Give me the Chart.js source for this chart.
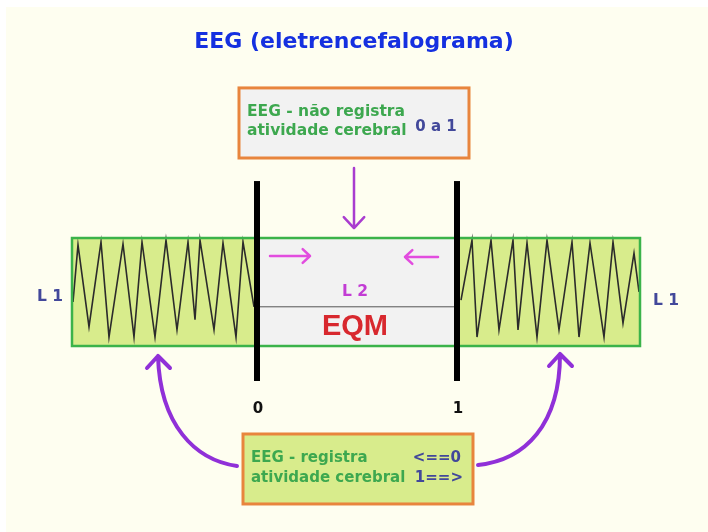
<!DOCTYPE html>
<html>
<head>
<meta charset="utf-8">
<script src="https://cdn.jsdelivr.net/npm/chart.js@4.4.1/dist/chart.umd.min.js"></script>
<style>
    html, body { margin: 0; padding: 0; background: #ffffff; }
    #wrap { width: 708px; height: 532px; }
</style>
</head>
<body>
<div id="wrap"><canvas id="eegChart" width="708" height="532"></canvas></div>
<script>
// x: 0 and 1 are the two black markers, y: amplitude of the trace
const eegEsqX = [-0.92, -0.895, -0.84, -0.78, -0.74, -0.67, -0.615, -0.575, -0.51, -0.455, -0.40, -0.345, -0.31, -0.285, -0.215, -0.17, -0.105, -0.07, -0.015];
const eegEsqY = [-0.25, 0.94, -0.77, 1.0, -0.98, 0.96, -0.98, 1.0, -0.98, 1.04, -0.83, 1.0, -0.62, 1.04, -0.83, 0.98, -0.98, 1.0, -0.35];
const eegDirX = [1.02, 1.075, 1.10, 1.17, 1.21, 1.28, 1.305, 1.35, 1.40, 1.45, 1.51, 1.575, 1.61, 1.665, 1.735, 1.78, 1.83, 1.885, 1.91];
const eegDirY = [-0.21, 1.04, -0.98, 1.04, -0.83, 1.04, -0.83, 0.98, -0.98, 1.04, -0.83, 1.0, -0.98, 0.98, -0.98, 1.0, -0.69, 0.77, -0.04];
const planaX = [0, 1];
const planaY = [-0.35, -0.35];

const marcos = ['0', '1'];
const titulo = 'EEG (eletrencefalograma)';
const textoTopo = ['EEG - não registra', 'atividade cerebral'];
const faixaTopo = '0 a 1';
const textoBase = ['EEG - registra', 'atividade cerebral'];
const faixaBase = ['<==0', '1==>'];
const rotuloL1 = 'L 1';
const rotuloL2 = 'L 2';
const rotuloEQM = 'EQM';

// diagram layout, in data units
const caixaEEG = { x0: -0.925, x1: 1.915, y0: 1.083, y1: -1.167 };
const barra = { y0: 2.27, y1: -1.896 };
const caixaTopo = { x0: -0.09, x1: 1.06, y0: 4.21, y1: 2.75 };
const caixaBase = { x0: -0.07, x1: 1.08, y0: -3.0, y1: -4.458 };

const pontos = (xs, ys) => xs.map((x, i) => ({ x: x, y: ys[i] }));

function seta(ctx, x0, y0, x1, y1, cor, largura, cab) {
    ctx.save();
    ctx.strokeStyle = cor;
    ctx.lineWidth = largura;
    ctx.lineCap = 'round';
    ctx.lineJoin = 'round';
    ctx.beginPath();
    ctx.moveTo(x0, y0);
    ctx.lineTo(x1, y1);
    const a = Math.atan2(y1 - y0, x1 - x0);
    ctx.moveTo(x1 - cab * Math.cos(a - 0.75), y1 - cab * Math.sin(a - 0.75));
    ctx.lineTo(x1, y1);
    ctx.lineTo(x1 - cab * Math.cos(a + 0.75), y1 - cab * Math.sin(a + 0.75));
    ctx.stroke();
    ctx.restore();
}

function caixa(ctx, X, Y, c, fundo, borda) {
    const l = X(c.x0), r = X(c.x1), t = Y(c.y0), b = Y(c.y1);
    ctx.fillStyle = fundo;
    ctx.fillRect(l, t, r - l, b - t);
    ctx.strokeStyle = borda;
    ctx.lineWidth = 3;
    ctx.strokeRect(l, t, r - l, b - t);
}

function texto(ctx, s, x, y, font, cor, align) {
    ctx.font = font;
    ctx.fillStyle = cor;
    ctx.textAlign = align || 'center';
    ctx.textBaseline = 'middle';
    ctx.fillText(s, x, y);
}

const diagrama = {
    id: 'diagrama',
    beforeDraw(chart) {
        const ctx = chart.ctx;
        ctx.save();
        ctx.fillStyle = '#ffffff';
        ctx.fillRect(0, 0, chart.width, chart.height);
        ctx.fillStyle = '#fefef0';
        ctx.fillRect(6, 7, chart.width - 6, chart.height - 7);
        ctx.restore();
    },
    beforeDatasetsDraw(chart) {
        const ctx = chart.ctx;
        const X = v => chart.scales.x.getPixelForValue(v);
        const Y = v => chart.scales.y.getPixelForValue(v);
        const t = Y(caixaEEG.y0), b = Y(caixaEEG.y1);
        ctx.save();
        ctx.fillStyle = '#d8ec8c';
        ctx.fillRect(X(caixaEEG.x0), t, X(caixaEEG.x1) - X(caixaEEG.x0), b - t);
        ctx.fillStyle = '#f2f2f2';
        ctx.fillRect(X(0), t, X(1) - X(0), b - t);
        ctx.restore();
    },
    afterDatasetsDraw(chart) {
        const ctx = chart.ctx;
        const X = v => chart.scales.x.getPixelForValue(v);
        const Y = v => chart.scales.y.getPixelForValue(v);
        const B = 'bold 15.5px "DejaVu Sans"';
        const b15 = 'bold 15px "DejaVu Sans"';
        ctx.save();

        // green frame round the traces
        ctx.strokeStyle = '#3bb34a';
        ctx.lineWidth = 2.5;
        ctx.strokeRect(X(caixaEEG.x0), Y(caixaEEG.y0), X(caixaEEG.x1) - X(caixaEEG.x0), Y(caixaEEG.y1) - Y(caixaEEG.y0));

        // black markers 0 and 1
        [0, 1].forEach((m, i) => {
            ctx.fillStyle = '#000000';
            ctx.fillRect(X(m) - 3, Y(barra.y0), 6, Y(barra.y1) - Y(barra.y0));
            texto(ctx, marcos[i], X(m) + 1, Y(-2.48), b15, '#111111');
        });

        // title
        texto(ctx, titulo, X(0.485), Y(5.17), 'bold 22px "DejaVu Sans"', '#1530e0');

        // top box
        caixa(ctx, X, Y, caixaTopo, '#f2f2f2', '#e8853d');
        texto(ctx, textoTopo[0], X(-0.05), Y(3.708), B, '#3da84f', 'left');
        texto(ctx, textoTopo[1], X(-0.05), Y(3.3125), B, '#3da84f', 'left');
        texto(ctx, faixaTopo, X(0.895), Y(3.396), b15, '#42489a');
        seta(ctx, X(0.485), Y(2.54), X(0.485), Y(1.29), '#a93ccf', 2.5, 15);

        // bottom box
        caixa(ctx, X, Y, caixaBase, '#d8ec8c', '#e8853d');
        texto(ctx, textoBase[0], X(-0.03), Y(-3.5), b15, '#3da84f', 'left');
        texto(ctx, textoBase[1], X(-0.03), Y(-3.917), b15, '#3da84f', 'left');
        texto(ctx, faixaBase[0], X(1.02), Y(-3.5), b15, '#42489a', 'right');
        texto(ctx, faixaBase[1], X(1.03), Y(-3.917), b15, '#42489a', 'right');

        // pink arrows inside the EQM window
        seta(ctx, X(0.065), Y(0.708), X(0.265), Y(0.708), '#e24ddf', 2.5, 10);
        seta(ctx, X(0.905), Y(0.6875), X(0.74), Y(0.6875), '#e24ddf', 2.5, 10);

        // labels
        texto(ctx, rotuloL2, X(0.49), Y(-0.042), B, '#c23cd4');
        texto(ctx, rotuloEQM, X(0.49), Y(-0.77), 'bold 29px "Liberation Sans"', '#d8282e');
        texto(ctx, rotuloL1, X(-1.035), Y(-0.146), B, '#42489a');
        texto(ctx, rotuloL1, X(2.045), Y(-0.23), B, '#42489a');

        // curved purple arrows from the bottom box
        ctx.strokeStyle = '#9030d8';
        ctx.lineWidth = 4;
        ctx.lineCap = 'round';
        ctx.lineJoin = 'round';
        ctx.beginPath();
        ctx.moveTo(X(-0.1), Y(-3.667));
        ctx.bezierCurveTo(X(-0.31), Y(-3.542), X(-0.485), Y(-2.813), X(-0.495), Y(-1.375));
        ctx.moveTo(X(-0.55), Y(-1.625));
        ctx.lineTo(X(-0.495), Y(-1.375));
        ctx.lineTo(X(-0.435), Y(-1.625));
        ctx.moveTo(X(1.105), Y(-3.646));
        ctx.bezierCurveTo(X(1.34), Y(-3.542), X(1.515), Y(-2.813), X(1.515), Y(-1.333));
        ctx.moveTo(X(1.46), Y(-1.583));
        ctx.lineTo(X(1.515), Y(-1.333));
        ctx.lineTo(X(1.575), Y(-1.583));
        ctx.stroke();

        ctx.restore();
    }
};

const chart = new Chart(document.getElementById('eegChart').getContext('2d'), {
    type: 'scatter',
    data: {
        datasets: [
            { label: 'EEG L1 esquerda', data: pontos(eegEsqX, eegEsqY), showLine: true, borderColor: '#2b2b2b', borderWidth: 1.6, pointRadius: 0, tension: 0 },
            { label: 'EEG L1 direita', data: pontos(eegDirX, eegDirY), showLine: true, borderColor: '#2b2b2b', borderWidth: 1.6, pointRadius: 0, tension: 0 },
            { label: 'EEG plano', data: pontos(planaX, planaY), showLine: true, borderColor: '#555555', borderWidth: 1, pointRadius: 0 }
        ]
    },
    options: {
        responsive: false,
        animation: false,
        devicePixelRatio: 1,
        layout: { padding: 0 },
        plugins: {
            legend: { display: false },
            tooltip: { enabled: false }
        },
        scales: {
            x: { type: 'linear', min: -1.285, max: 2.255, display: false },
            y: { type: 'linear', min: -5.042, max: 6.042, display: false }
        }
    },
    plugins: [diagrama]
});
</script>
</body>
</html>
